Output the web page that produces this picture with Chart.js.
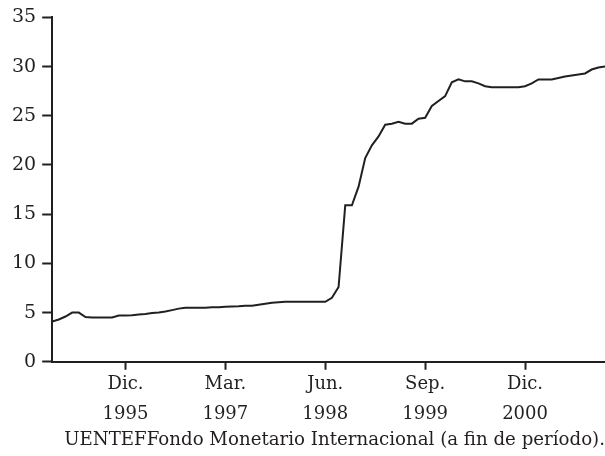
<!DOCTYPE html>
<html>
<head>
<meta charset="utf-8">
<script src="https://cdn.jsdelivr.net/npm/chart.js@4"></script>
<style>
  body { margin: 0; background: #fff; }
  #wrap { width: 605px; height: 456px; }
</style>
</head>
<body>
<div id="wrap"><canvas id="my-chart" width="605" height="456"></canvas></div>
<script>
'use strict';

// ******** DATA **************
// months counted from Jan 1995 (0) to Dec 2001 (83)
let months = [];
for (let i = 0; i <= 83; i++) {
  months.push(i);
}

let rateValues = [
  4.1, 4.3, 4.6, 5.0, 5.0, 4.55, 4.5, 4.5, 4.5, 4.5,
  4.7, 4.7, 4.72, 4.8, 4.85, 4.95, 5.0, 5.1, 5.25, 5.4,
  5.5, 5.5, 5.5, 5.5, 5.55, 5.55, 5.6, 5.62, 5.65, 5.7,
  5.7, 5.8, 5.9, 6.0, 6.05, 6.1, 6.1, 6.1, 6.1, 6.1,
  6.1, 6.1, 6.5, 7.6, 15.9, 15.9, 17.8, 20.7, 22.0, 22.9,
  24.1, 24.2, 24.4, 24.2, 24.2, 24.7, 24.8, 26.0, 26.5, 27.0,
  28.4, 28.7, 28.5, 28.5, 28.3, 28.0, 27.9, 27.9, 27.9, 27.9,
  27.9, 28.0, 28.3, 28.7, 28.7, 28.7, 28.85, 29.0, 29.1, 29.2,
  29.3, 29.7, 29.9, 30.0
];

let tickMonths = [11, 26, 41, 56, 71];
let tickLabels = [
  ['Dic.', '1995'],
  ['Mar.', '1997'],
  ['Jun.', '1998'],
  ['Sep.', '1999'],
  ['Dic.', '2000']
];

let sourceText = 'UENTEFFondo Monetario Internacional (a fin de período).';

// ********* CHART ****************
let inkColor = '#231f20';
let canvasElem = document.getElementById('my-chart');

let points = [];
for (let i = 0; i < months.length; i++) {
  points.push({ x: months[i], y: rateValues[i] });
}

let myObj = {
  type: 'line',
  data: {
    datasets: [{
      data: points,
      borderColor: inkColor,
      borderWidth: 2,
      pointRadius: 0,
      tension: 0,
      fill: false
    }]
  },
  options: {
    responsive: false,
    animation: false,
    layout: {
      padding: { top: 11, right: 0, left: 6, bottom: 0 }
    },
    plugins: {
      legend: { display: false },
      tooltip: { enabled: false },
      title: {
        display: true,
        position: 'bottom',
        align: 'end',
        text: sourceText,
        color: inkColor,
        font: { family: 'DejaVu Serif', size: 18.2, weight: 'normal' },
        padding: { top: 0, bottom: 5 }
      }
    },
    scales: {
      x: {
        type: 'linear',
        min: 0,
        max: 83,
        afterBuildTicks: function (scale) {
          scale.ticks = tickMonths.map(function (m) { return { value: m }; });
        },
        ticks: {
          autoSkip: false,
          maxRotation: 0,
          color: inkColor,
          padding: 0,
          font: { family: 'DejaVu Serif', size: 18, lineHeight: 1.65 },
          callback: function (value, index) {
            return tickLabels[index];
          }
        },
        grid: {
          display: true,
          drawOnChartArea: false,
          drawTicks: true,
          tickLength: 8,
          tickWidth: 2,
          color: inkColor
        },
        border: { display: true, color: inkColor, width: 2 }
      },
      y: {
        min: 0,
        max: 35,
        ticks: {
          stepSize: 5,
          color: inkColor,
          padding: 6,
          font: { family: 'DejaVu Serif', size: 19 }
        },
        grid: {
          display: true,
          drawOnChartArea: false,
          drawTicks: true,
          tickLength: 10,
          tickWidth: 2,
          color: inkColor
        },
        border: { display: true, color: inkColor, width: 2 }
      }
    }
  }
};

new Chart(canvasElem, myObj);
</script>
</body>
</html>
